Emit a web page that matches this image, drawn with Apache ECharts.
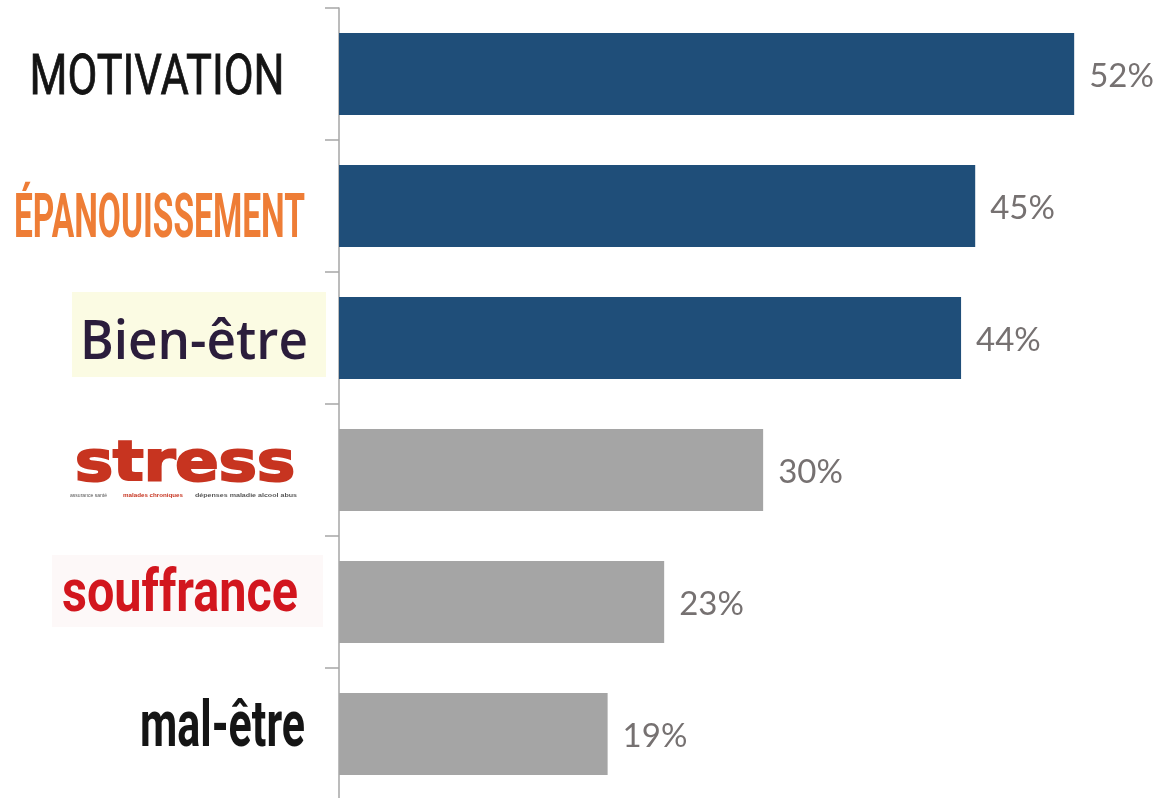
<!DOCTYPE html>
<html><head><meta charset="utf-8">
<script src="https://cdn.jsdelivr.net/npm/echarts@6/dist/echarts.min.js"></script>
<style>html,body{margin:0;padding:0;background:#fff}#c{width:1158px;height:798px}</style>
</head><body><div id="c"></div>
<script>
const categories = ['MOTIVATION', 'ÉPANOUISSEMENT', 'Bien-être', 'stress', 'souffrance', 'mal-être'];
const values = [52, 45, 44, 30, 23, 19];
const barColors = ['#1f4e79', '#1f4e79', '#1f4e79', '#a5a5a5', '#a5a5a5', '#a5a5a5'];
const stressSubTexts = ['assurance santé', 'malades chroniques', 'dépenses maladie alcool abus'];

// Label styling (offsets relative to the axis point of each category; sizes, fonts, colours)
const labelStyles = [
  { parts: [{ t: 'cat', font: '400 56px Roboto', color: '#141414', cx: -182, cy: 6, w: 255, stroke: 0.8 }] },
  { parts: [{ t: 'cat', font: 'bold 62px Roboto', color: '#ee7d36', cx: -179.5, cy: 15, w: 291 }] },
  { parts: [
      { rect: true, x: -267, y: -46, w: 254, h: 85, color: '#fbfbe3' },
      { t: 'cat', font: '600 54px "Open Sans"', color: '#2b1d3c', cx: -145, cy: 6, w: 228 }] },
  { parts: [
      { t: 'cat', font: 'bold 55px "DejaVu Sans"', color: '#c73420', cx: -154, cy: -4, w: 220, stroke: 2.2 },
      { t: 0, font: '6px "Liberation Sans"', color: '#555555', cx: -250.5, cy: 25, w: 37 },
      { t: 1, font: 'bold 6px "Liberation Sans"', color: '#c73420', cx: -186, cy: 25, w: 60 },
      { t: 2, font: 'bold 6px "Liberation Sans"', color: '#555555', cx: -93, cy: 25, w: 102 }] },
  { parts: [
      { rect: true, x: -287, y: -47, w: 271, h: 72, color: '#fdf8f8' },
      { t: 'cat', font: 'bold 60px Roboto', color: '#d2161e', cx: -159, cy: -6, w: 236 }] },
  { parts: [{ t: 'cat', font: 'bold 64px Roboto', color: '#151515', cx: -116.5, cy: -4, w: 165 }] }
];

const measureCtx = document.createElement('canvas').getContext('2d');
function measure(text, font) { measureCtx.font = font; return measureCtx.measureText(text).width; }

const chart = echarts.init(document.getElementById('c'));
chart.setOption({
  animation: false,
  grid: { left: 339, top: 8, width: 820, height: 792, containLabel: false, outerBoundsMode: 'none' },
  xAxis: { type: 'value', min: 0, max: 58, show: false },
  yAxis: {
    type: 'category', data: categories, inverse: true,
    axisLine: { show: true, lineStyle: { color: '#a6a6a6', width: 1.5 } },
    axisTick: { show: true, length: 14, lineStyle: { color: '#a6a6a6', width: 1.5 } },
    axisLabel: { show: false }
  },
  series: [{
    type: 'bar', barCategoryGap: '38%',
    data: values.map((v, i) => ({ value: v, itemStyle: { color: barColors[i] } })),
    label: { show: true, position: 'right', distance: 15, offset: [0, 2], formatter: '{c}%',
             fontFamily: "Lato, 'Open Sans', sans-serif", fontSize: 33, color: '#767171' }
  }, {
    type: 'custom', clip: false, silent: true,
    encode: { x: 0, y: 1 },
    data: categories.map((c, i) => [0, i]),
    renderItem: function (params, api) {
      const idx = api.value(1);
      const pt = api.coord([0, idx]);
      const children = labelStyles[idx].parts.map(p => {
        if (p.rect) {
          return { type: 'rect', shape: { x: p.x, y: p.y, width: p.w, height: p.h }, style: { fill: p.color } };
        }
        const text = p.t === 'cat' ? categories[idx] : stressSubTexts[p.t];
        const natural = measure(text, p.font);
        const style = { text: text, font: p.font, fill: p.color, align: 'center', verticalAlign: 'middle' };
        if (p.stroke) { style.stroke = p.color; style.lineWidth = p.stroke; }
        return { type: 'text', x: p.cx, y: p.cy, scaleX: p.w / natural, style: style };
      });
      return { type: 'group', x: pt[0], y: pt[1], children: children };
    }
  }]
});
</script></body></html>
